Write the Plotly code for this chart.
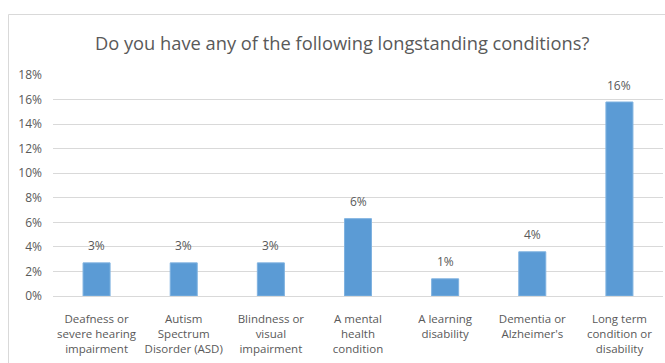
import plotly.graph_objects as go

# Survey responses: share of respondents reporting each longstanding condition
categories = [
    "Deafness or<br>severe hearing<br>impairment",
    "Autism<br>Spectrum<br>Disorder (ASD)",
    "Blindness or<br>visual<br>impairment",
    "A mental<br>health<br>condition",
    "A learning<br>disability",
    "Dementia or<br>Alzheimer's",
    "Long term<br>condition or<br>disability",
]
shares = [0.027, 0.027, 0.027, 0.063, 0.014, 0.036, 0.158]

y_ticks = [0.0, 0.02, 0.04, 0.06, 0.08, 0.10, 0.12, 0.14, 0.16, 0.18]

TEXT = "#595959"
GRID = "#d9d9d9"
FONT = "Open Sans"

fig = go.Figure(
    go.Bar(
        x=categories,
        y=shares,
        marker=dict(color="#5b9bd5", line=dict(color="#7fb2e0", width=1)),
        cliponaxis=False,
        width=0.31,
        hovertemplate="%{y:.1%}<extra></extra>",
    )
)

# Value labels sitting above each bar
for cat, val in zip(categories, shares):
    fig.add_annotation(
        x=cat,
        y=val,
        text=f"{val:.0%}",
        showarrow=False,
        yanchor="middle",
        yshift=17,
        font=dict(family=FONT, size=12, color=TEXT),
    )

fig.update_layout(
    width=665,
    height=363,
    margin=dict(l=53, r=2, t=75, b=67),
    paper_bgcolor="white",
    plot_bgcolor="white",
    showlegend=False,
    title=dict(
        text="Do you have any of the following longstanding conditions?",
        x=0.474,
        xanchor="center",
        xref="paper",
        y=1 - 44 / 363,
        yanchor="middle",
        font=dict(family=FONT, size=18.3, color=TEXT),
    ),
    xaxis=dict(
        showgrid=False,
        showline=True,
        linecolor=GRID,
        linewidth=1,
        ticks="",
        ticklabelstandoff=12,
        tickfont=dict(family=FONT, size=11.5, color=TEXT),
    ),
    yaxis=dict(
        range=[0, 0.18],
        tickvals=y_ticks,
        tickformat=".0%",
        showgrid=True,
        gridcolor=GRID,
        gridwidth=1,
        zeroline=False,
        showline=False,
        ticks="",
        ticklabelstandoff=10,
        tickfont=dict(family=FONT, size=12, color=TEXT),
    ),
    shapes=[
        dict(
            type="rect",
            xref="paper",
            yref="paper",
            x0=(8.5 - 53) / 610,
            x1=1.01,
            y0=-0.4,
            y1=(296 - 14.5) / 221,
            line=dict(color="#d9d9d9", width=1),
            fillcolor="rgba(0,0,0,0)",
            layer="below",
        )
    ],
)

fig.write_html("out.html")
